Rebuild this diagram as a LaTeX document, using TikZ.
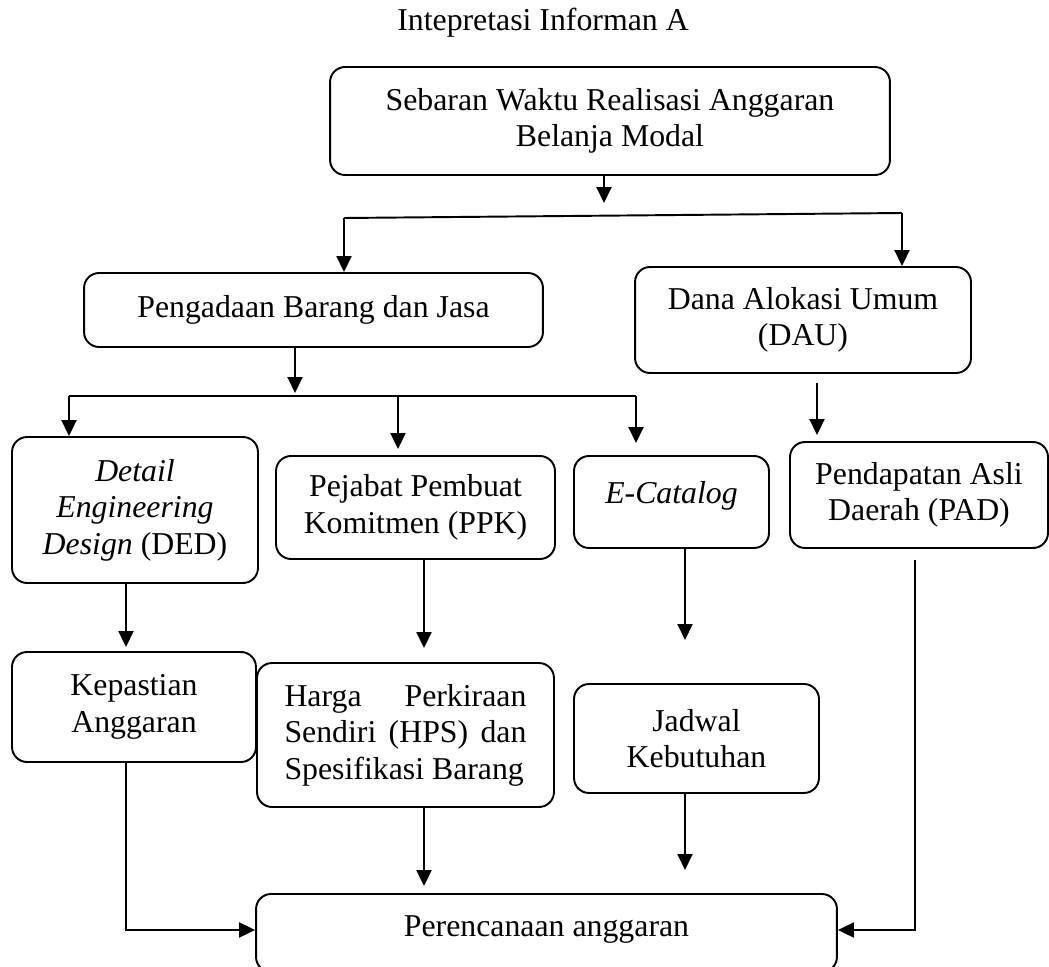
\documentclass[tikz,border=0pt]{standalone}
\usepackage{fontspec}
\setmainfont{Liberation Serif}
\usetikzlibrary{arrows.meta}
\tikzset{
  kotak/.style={draw, rounded corners=0.3cm, line width=1.1pt, align=center, inner sep=0pt},
  panah/.style={-{Triangle[length=0.32cm,width=0.3cm]}, line width=1.1pt},
  garis/.style={line width=1.1pt}
}
\hbadness=10000

\begin{document}
\begin{tikzpicture}[x=0.02cm, y=-0.02cm, font=\fontsize{18.1}{20.8}\selectfont]
		%%%%% START %%%%%
		\path[use as bounding box] (0,0) rectangle (1049,967);
		
		\node (judul) at (543,23) {Intepretasi Informan A};
		
		\node[kotak, minimum width=11.2cm, minimum height=2.16cm] (sebaran) at (610,121) {Sebaran Waktu Realisasi Anggaran\\Belanja Modal};
		
		\node[kotak, minimum width=9.18cm, minimum height=1.48cm] (pbj) at (313.5,310) {Pengadaan Barang dan Jasa};
		\node[kotak, minimum width=6.72cm, minimum height=2.12cm] (dau) at (803,320) {Dana Alokasi Umum\\(DAU)};
		
		\node[kotak, minimum width=4.92cm, minimum height=2.92cm] (ded) at (135,510) {\textit{Detail}\\\textit{Engineering}\\\textit{Design} (DED)};
		\node[kotak, minimum width=5.58cm, minimum height=2.06cm] (ppk) at (415.5,507.5) {Pejabat Pembuat\\Komitmen (PPK)};
		\node[kotak, minimum width=3.9cm, minimum height=1.84cm, text depth=0.38cm] (ecat) at (671.5,502) {\textit{E-Catalog}};
		\node[kotak, minimum width=5.16cm, minimum height=2.12cm] (pad) at (919,495) {Pendapatan Asli\\Daerah (PAD)};
		
		\node[kotak, minimum width=4.88cm, minimum height=2.2cm] (kepastian) at (134,707) {Kepastian\\Anggaran};
		\node[kotak, minimum width=5.94cm, minimum height=2.88cm, text width=4.84cm, align=justify] (hps) at (405.5,735) {Harga Perkiraan\linebreak Sendiri (HPS) dan\linebreak Spesifikasi Barang};
		\node[kotak, minimum width=4.9cm, minimum height=2.18cm] (jadwal) at (696.5,738.5) {Jadwal\\Kebutuhan};
		
		\node[kotak, minimum width=11.62cm, minimum height=1.56cm, text depth=0.26cm] (perencanaan) at (546.5,933) {Perencanaan anggaran};
		
		% titik bantu
		\coordinate (t1) at (604,203);
		\coordinate (b1l) at (344,218);
		\coordinate (b1r) at (902,213);
		\coordinate (t2) at (295,393);
		\coordinate (b2l) at (69,396);
		\coordinate (b2m) at (398,396);
		\coordinate (b2r) at (636,396);
		\coordinate (e1) at (636,443);
		\coordinate (e2) at (685,640);
		\coordinate (e3) at (685,870);
		\coordinate (c1) at (817,382);
		\coordinate (c2) at (126,583);
		\coordinate (c3) at (424,560);
		\coordinate (c4) at (915,548);
		
		\draw[panah] (sebaran.south -| t1) -- (t1);
		\draw[garis] (b1l) -- (b1r);
		\draw[panah] (b1l) -- (pbj.north -| b1l);
		\draw[panah] (b1r) -- (dau.north -| b1r);
		
		\draw[panah] (pbj.south -| t2) -- (t2);
		\draw[garis] (b2l) -- (b2r);
		\draw[panah] (b2l) -- (ded.north -| b2l);
		\draw[panah, shorten >=0.12cm] (b2m) -- (ppk.north -| b2m);
		\draw[panah] (b2r) -- (e1);
		
		\draw[panah, shorten <=0.18cm, shorten >=0.12cm] (dau.south -| c1) -- (pad.north -| c1);
		\draw[panah, shorten >=0.08cm] (ded.south -| c2) -- (kepastian.north -| c2);
		\draw[panah, shorten >=0.28cm] (ppk.south -| c3) -- (hps.north -| c3);
		\draw[panah] (ecat.south -| e2) -- (e2);
		\draw[panah] (jadwal.south -| e3) -- (e3);
		\draw[panah, shorten >=0.14cm] (hps.south -| c3) -- (perencanaan.north -| c3);
		
		\draw[panah] (kepastian.south -| c2) |- ([yshift=0.06cm]perencanaan.west);
		\draw[panah, shorten <=0.22cm] (pad.south -| c4) |- ([yshift=0.06cm]perencanaan.east);
		%%%%% END %%%%%
\end{tikzpicture}
\end{document}
